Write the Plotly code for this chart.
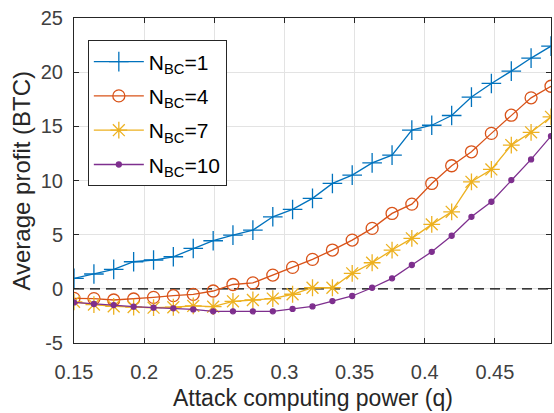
import plotly.graph_objects as go

q = [0.15, 0.1642, 0.1783, 0.1925, 0.2067, 0.2208, 0.235, 0.2492, 0.2633, 0.2775,
     0.2917, 0.3058, 0.32, 0.3342, 0.3483, 0.3625, 0.3767, 0.3908, 0.405, 0.4192,
     0.4333, 0.4475, 0.4617, 0.4758, 0.49]

nbc1 = [0.97, 1.37, 1.8, 2.5, 2.66, 2.96, 3.73, 4.44, 4.96, 5.42,
        6.65, 7.33, 8.35, 9.73, 10.5, 11.63, 12.34, 14.65, 15.1, 16.0,
        17.7, 18.96, 20.1, 21.3, 22.4]
nbc4 = [-0.88, -0.9, -1.03, -0.94, -0.79, -0.63, -0.51, -0.2, 0.4, 0.55,
        1.27, 1.98, 2.72, 3.58, 4.5, 5.58, 6.96, 7.82, 9.73, 11.36,
        12.65, 14.35, 16.03, 17.63, 18.7]
nbc7 = [-1.2, -1.45, -1.62, -1.68, -1.74, -1.7, -1.58, -1.65, -1.15, -1.03,
        -0.9, -0.5, 0.1, 0.1, 1.43, 2.41, 3.58, 4.66, 5.95, 7.11,
        9.88, 11.02, 13.27, 14.45, 15.88]
nbc10 = [-1.25, -1.4, -1.5, -1.65, -1.74, -1.8, -1.9, -2.08, -2.08, -2.08,
         -2.08, -1.85, -1.62, -1.13, -0.66, 0.1, 0.97, 2.2, 3.42, 4.9,
         6.65, 8.04, 10.04, 11.95, 14.1]

names = ["N<sub>BC</sub>=1", "N<sub>BC</sub>=4", "N<sub>BC</sub>=7", "N<sub>BC</sub>=10"]
x_ticks = [0.15, 0.2, 0.25, 0.3, 0.35, 0.4, 0.45]
x_tick_text = ["0.15", "0.2", "0.25", "0.3", "0.35", "0.4", "0.45"]
y_ticks = [-5, 0, 5, 10, 15, 20, 25]
y_tick_text = ["-5", "0", "5", "10", "15", "20", "25"]
zero_line = [0, 0]
zero_x = [0.15, 0.49]

colors = ["#0072BD", "#D95319", "#EDB120", "#7E2F8E"]
symbols = ["cross-thin-open", "circle-open", "asterisk-open", "circle"]
sizes = [14, 12, 14, 5]
FONT = "Liberation Sans, Arial"

fig = go.Figure()
fig.add_trace(go.Scatter(x=zero_x, y=zero_line, mode="lines", showlegend=False,
                         line=dict(color="black", width=1.2, dash="10px,6px"),
                         hoverinfo="skip"))
for i, (ys, nm, c, s, sz) in enumerate(zip([nbc1, nbc4, nbc7, nbc10], names, colors, symbols, sizes)):
    fig.add_trace(go.Scatter(
        x=q, y=ys, name=nm, mode="lines+markers", legendgroup=f"g{i}",
        line=dict(color=c, width=1.3),
        marker=dict(symbol=s, size=sz, color=c, line=dict(color=c, width=1.3)),
    ))

axis_common = dict(
    showline=True, linecolor="#262626", linewidth=1, mirror="ticks",
    ticks="inside", ticklen=5, tickcolor="#262626",
    showgrid=True, gridcolor="#e3e3e3", gridwidth=1, zeroline=False,
    automargin=False, ticklabeloverflow="allow",
    tickfont=dict(family=FONT, size=20, color="#404040"),
)
fig.update_xaxes(range=[0.15, 0.49], tickvals=x_ticks, ticktext=x_tick_text,
                 ticklabelstandoff=11, **axis_common)
fig.update_yaxes(range=[-5, 25], tickvals=y_ticks, ticktext=y_tick_text,
                 ticklabelstandoff=6, **axis_common)
fig.add_annotation(text="Attack computing power (q)", xref="paper", yref="paper",
                   x=0.5, y=-0.169, xanchor="center", yanchor="middle", showarrow=False,
                   font=dict(family=FONT, size=23, color="#262626"))
fig.add_annotation(text="Average profit (BTC)", xref="paper", yref="paper",
                   x=-0.111, y=0.5, xanchor="center", yanchor="middle", showarrow=False,
                   textangle=-90, font=dict(family=FONT, size=24, color="#262626"))
fig.update_layout(
    width=554, height=413,
    margin=dict(l=74, r=3, t=18, b=70),
    paper_bgcolor="white", plot_bgcolor="white",
    legend=dict(x=0.029, y=0.931, xanchor="left", yanchor="top",
                bgcolor="white", bordercolor="#262626", borderwidth=1,
                font=dict(family=FONT, size=21, color="#000000"),
                itemwidth=50, tracegroupgap=4),
)
fig.write_html(
    "out.html",
    config={"displayModeBar": False},
    post_script="document.body.style.margin='0';document.documentElement.style.overflow='hidden';document.body.style.overflow='hidden';",
)
